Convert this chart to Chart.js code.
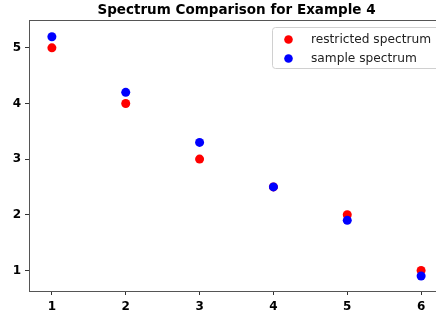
<!DOCTYPE html>
<html>
<head>
<meta charset="utf-8">
<script src="https://cdn.jsdelivr.net/npm/chart.js@4"></script>
<style>
  html, body { margin: 0; padding: 0; background: #fff; overflow: hidden; width: 436px; height: 318px; }
  #wrap { position: relative; width: 460px; height: 318px; }
</style>
</head>
<body>
<div id="wrap"><canvas id="c"></canvas></div>
<script>
const titleText = 'Spectrum Comparison for Example 4';
const xValues = [1, 2, 3, 4, 5, 6];
const restrictedSpectrum = [5, 4, 3, 2.5, 2, 1];
const sampleSpectrum = [5.2, 4.2, 3.3, 2.5, 1.9, 0.9];
const seriesLabels = ['restricted spectrum', 'sample spectrum'];
const seriesColors = ['#ff0000', '#0000ff'];
const xTicks = [1, 2, 3, 4, 5, 6];
const yTicks = [1, 2, 3, 4, 5];

const FONT = '"DejaVu Sans", sans-serif';

const titlePlugin = {
  id: 'mplTitle',
  afterDraw(chart) {
    const ctx = chart.ctx, a = chart.chartArea;
    ctx.save();
    ctx.font = 'bold 13.5px ' + FONT;
    ctx.fillStyle = '#000';
    ctx.textAlign = 'center';
    ctx.textBaseline = 'middle';
    ctx.fillText(titleText, (a.left + a.right) / 2, 10);
    ctx.restore();
  }
};

const framePlugin = {
  id: 'frame',
  afterDraw(chart) {
    const ctx = chart.ctx, a = chart.chartArea;
    ctx.save();
    ctx.strokeStyle = '#555';
    ctx.lineWidth = 1;
    ctx.beginPath();
    ctx.moveTo(a.left, a.top + 0.5);
    ctx.lineTo(a.right, a.top + 0.5);
    ctx.moveTo(a.right - 0.5, a.top);
    ctx.lineTo(a.right - 0.5, a.bottom);
    ctx.stroke();
    ctx.restore();
  }
};

const legendPlugin = {
  id: 'mplLegend',
  afterDraw(chart) {
    const ctx = chart.ctx;
    const x0 = 272, y0 = 27, w = 167, h = 41, r = 3;
    ctx.save();
    ctx.fillStyle = 'rgba(255,255,255,0.8)';
    ctx.strokeStyle = '#d0d0d0';
    ctx.lineWidth = 1;
    ctx.beginPath();
    ctx.roundRect(x0 + 0.5, y0 + 0.5, w, h, r);
    ctx.fill();
    ctx.stroke();
    ctx.font = '12.2px ' + FONT;
    ctx.textBaseline = 'middle';
    ctx.textAlign = 'left';
    chart.data.datasets.forEach((ds, i) => {
      const cy = 39.5 + i * 19;
      ctx.fillStyle = ds.backgroundColor;
      ctx.beginPath();
      ctx.arc(288.5, cy, 4.3, 0, Math.PI * 2);
      ctx.fill();
      ctx.fillStyle = '#222';
      ctx.fillText(ds.label, 311, cy);
    });
    ctx.restore();
  }
};

function mkData(ys) { return xValues.map((x, i) => ({ x: x, y: ys[i] })); }

new Chart(document.getElementById('c'), {
  type: 'scatter',
  data: {
    datasets: [
      { label: seriesLabels[0], data: mkData(restrictedSpectrum), backgroundColor: seriesColors[0], borderColor: seriesColors[0], pointRadius: 4.5, pointBorderWidth: 0, order: 1 },
      { label: seriesLabels[1], data: mkData(sampleSpectrum), backgroundColor: seriesColors[1], borderColor: seriesColors[1], pointRadius: 4.5, pointBorderWidth: 0, order: 0 }
    ]
  },
  options: {
    responsive: true,
    maintainAspectRatio: false,
    animation: false,
    events: [],
    layout: { padding: { top: 20, right: 16, left: 0, bottom: 0 } },
    plugins: { legend: { display: false }, title: { display: false }, tooltip: { enabled: false } },
    scales: {
      x: {
        type: 'linear',
        min: 0.69, max: 6.31,
        afterBuildTicks(scale) { scale.ticks = xTicks.map(v => ({ value: v })); },
        afterFit(scale) { scale.height = 27; },
        grid: { display: true, drawOnChartArea: false, drawTicks: true, tickLength: 4, color: '#333' },
        border: { display: true, color: '#555', width: 1 },
        ticks: { color: '#000', font: { family: FONT, size: 12, weight: 'bold' }, padding: 5, maxRotation: 0 }
      },
      y: {
        type: 'linear',
        min: 0.63, max: 5.5,
        afterBuildTicks(scale) { scale.ticks = yTicks.map(v => ({ value: v })); },
        afterFit(scale) { scale.width = 29; },
        grid: { display: true, drawOnChartArea: false, drawTicks: true, tickLength: 4, color: '#333' },
        border: { display: true, color: '#555', width: 1 },
        ticks: { color: '#000', font: { family: FONT, size: 12, weight: 'bold' }, padding: 4 }
      }
    }
  },
  plugins: [titlePlugin, framePlugin, legendPlugin]
});
</script>
</body>
</html>
